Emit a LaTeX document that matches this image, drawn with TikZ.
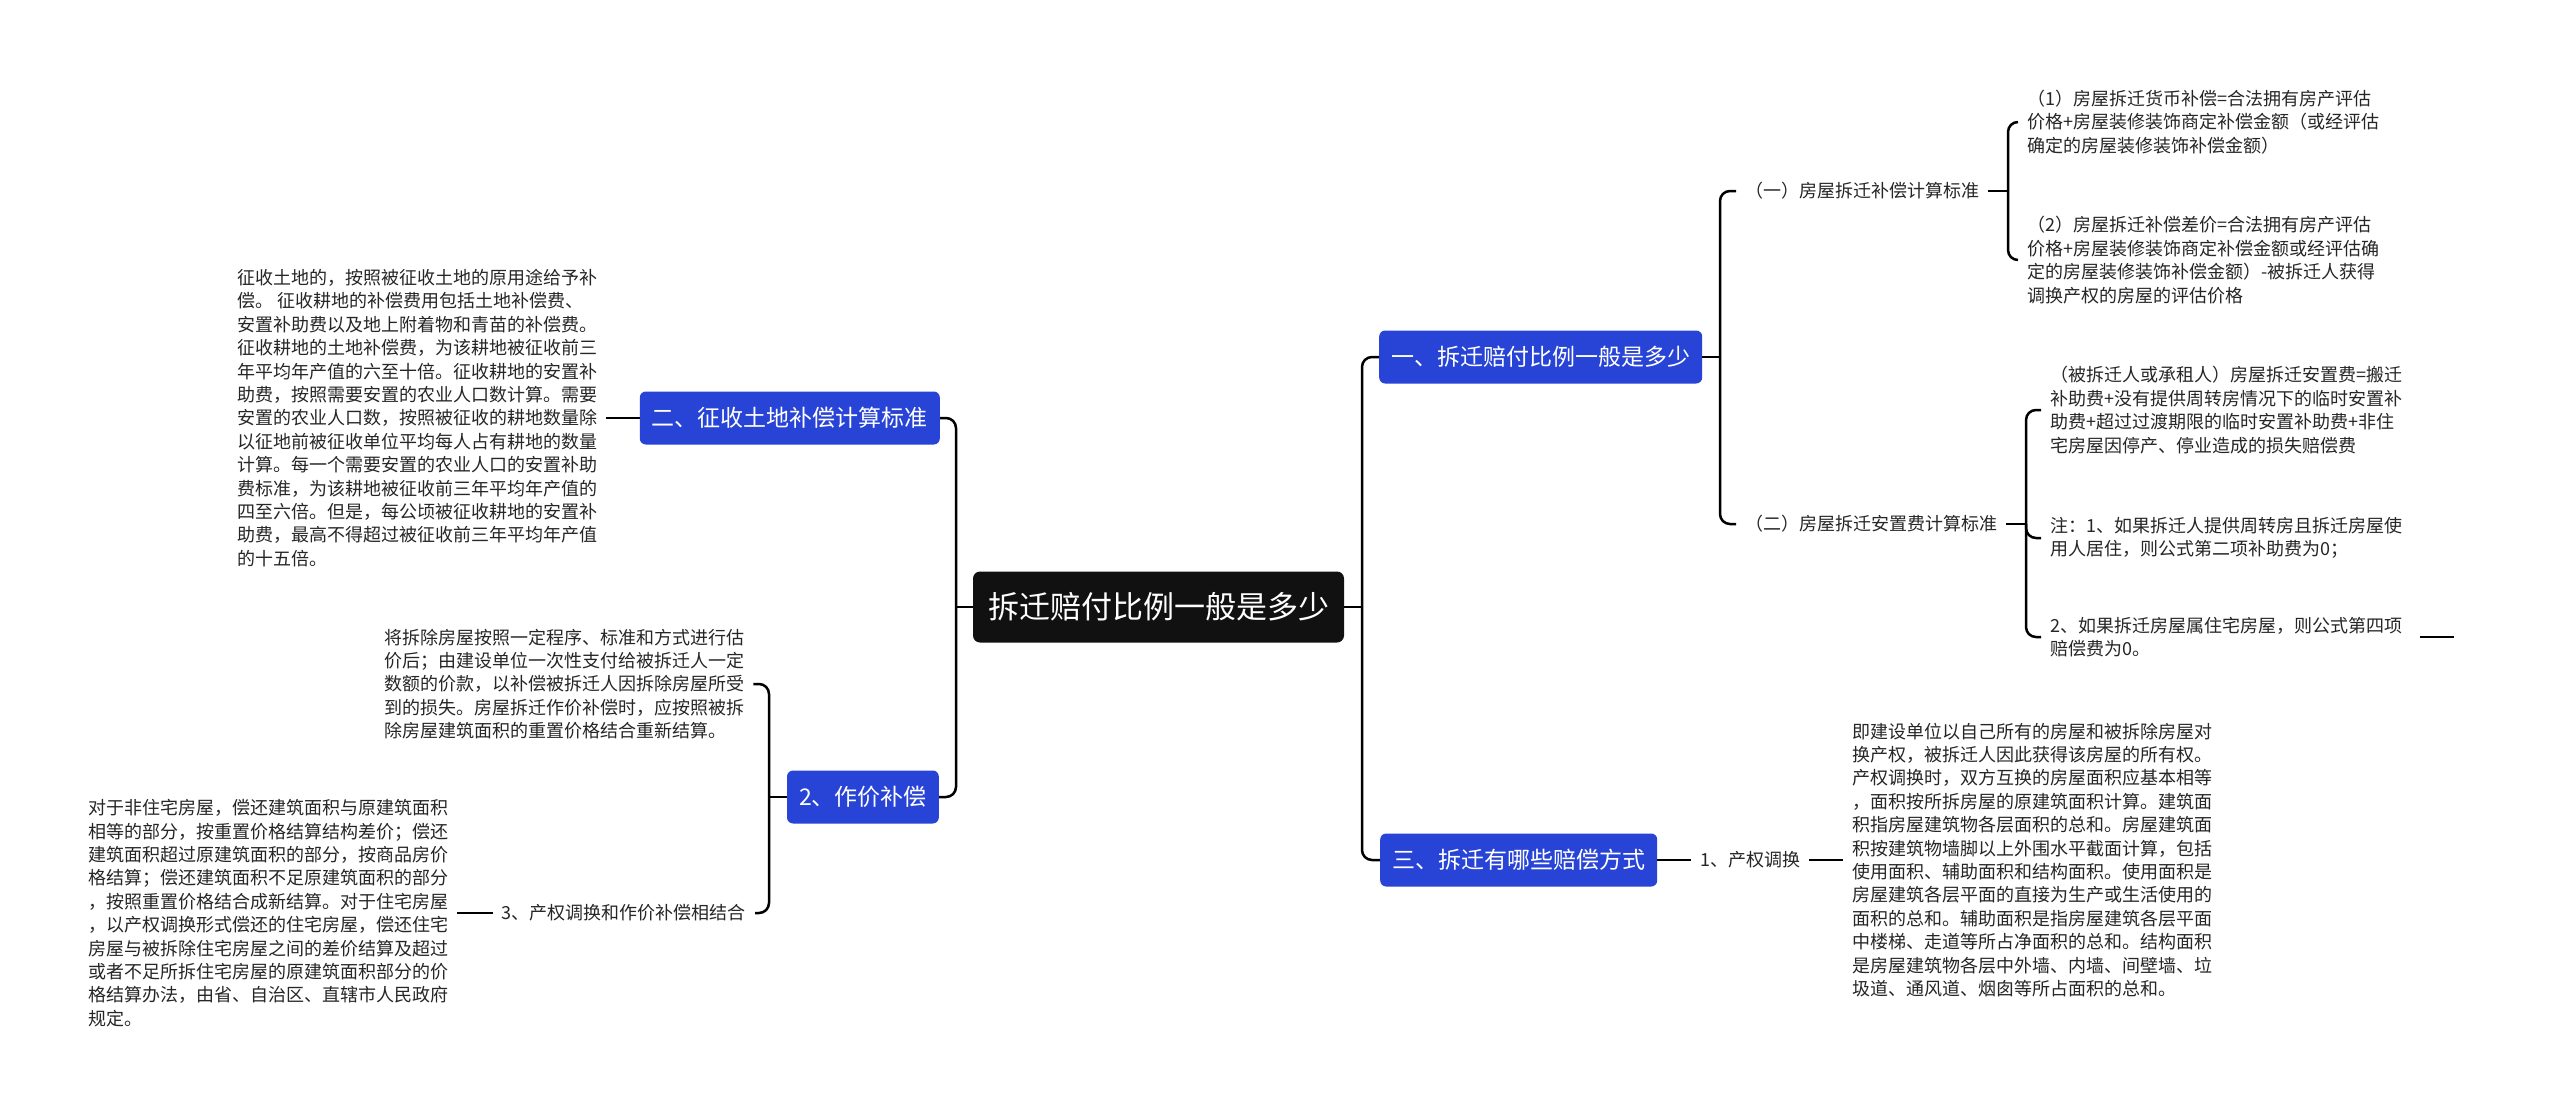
\documentclass[tikz,border=0pt]{standalone}
\usepackage{fontspec}
\newfontfamily\cjk{Noto Sans CJK SC}
\definecolor{mblue}{RGB}{40,68,214}
\definecolor{mtext}{RGB}{38,38,38}
\definecolor{mroot}{RGB}{17,17,17}
\begin{document}
\begin{tikzpicture}[x=1pt,y=-1pt,
  conn/.style={line width=2.5pt, draw=black, rounded corners=10pt},
  rootbox/.style={fill=mroot, text=white, rounded corners=7pt, inner xsep=15pt, inner ysep=0pt, minimum height=71pt, font=\cjk\fontsize{31}{36}\selectfont},
  topicbox/.style={fill=mblue, text=white, rounded corners=6pt, inner xsep=12pt, inner ysep=0pt, minimum height=53pt, font=\cjk\fontsize{23}{28}\selectfont},
  leaf/.style={text=mtext, inner xsep=9pt, inner ysep=2pt, align=left, font=\cjk\fontsize{18}{23.4}\selectfont},
]
\useasboundingbox[fill=white] (0,0) rectangle (2560,1116);

% trunk x positions
\coordinate (tkL) at (956,0);
\coordinate (tkZ) at (769,0);
\coordinate (tkR) at (1362,0);
\coordinate (tkY) at (1720,0);
\coordinate (tkA) at (2008,0);
\coordinate (tkB) at (2026,0);
\coordinate (stray) at (2454,637);

% root
\node[rootbox] (root) at (1158.5,607) {拆迁赔付比例一般是多少};

% left topics
\node[topicbox, anchor=east] (er) at (940,418) {二、征收土地补偿计算标准};
\node[topicbox, anchor=east] (zj) at (939,797) {2、作价补偿};

% right topics
\node[topicbox, anchor=west] (yi) at (1379,357) {一、拆迁赔付比例一般是多少};
\node[topicbox, anchor=west] (san) at (1380,860) {三、拆迁有哪些赔偿方式};

% left leaves
\node[leaf, anchor=west] (tA) at (228,418) {征收土地的，按照被征收土地的原用途给予补\\
偿。 征收耕地的补偿费用包括土地补偿费、\\
安置补助费以及地上附着物和青苗的补偿费。\\
征收耕地的土地补偿费，为该耕地被征收前三\\
年平均年产值的六至十倍。征收耕地的安置补\\
助费，按照需要安置的农业人口数计算。需要\\
安置的农业人口数，按照被征收的耕地数量除\\
以征地前被征收单位平均每人占有耕地的数量\\
计算。每一个需要安置的农业人口的安置补助\\
费标准，为该耕地被征收前三年平均年产值的\\
四至六倍。但是，每公顷被征收耕地的安置补\\
助费，最高不得超过被征收前三年平均年产值\\
的十五倍。};

\node[leaf, anchor=west] (tB) at (375,684) {将拆除房屋按照一定程序、标准和方式进行估\\
价后；由建设单位一次性支付给被拆迁人一定\\
数额的价款，以补偿被拆迁人因拆除房屋所受\\
到的损失。房屋拆迁作价补偿时，应按照被拆\\
除房屋建筑面积的重置价格结合重新结算。};

\node[leaf, anchor=east] (l3) at (755,913) {3、产权调换和作价补偿相结合};

\node[leaf, anchor=west] (tC) at (79,913) {对于非住宅房屋，偿还建筑面积与原建筑面积\\
相等的部分，按重置价格结算结构差价；偿还\\
建筑面积超过原建筑面积的部分，按商品房价\\
格结算；偿还建筑面积不足原建筑面积的部分\\
，按照重置价格结合成新结算。对于住宅房屋\\
，以产权调换形式偿还的住宅房屋，偿还住宅\\
房屋与被拆除住宅房屋之间的差价结算及超过\\
或者不足所拆住宅房屋的原建筑面积部分的价\\
格结算办法，由省、自治区、直辖市人民政府\\
规定。};

% right leaves
\node[leaf, anchor=west] (l1) at (1736,191) {（一）房屋拆迁补偿计算标准};
\node[leaf, anchor=west] (l2) at (1736,524) {（二）房屋拆迁安置费计算标准};

\node[leaf, anchor=west] (t1) at (2018,122) {（1）房屋拆迁货币补偿=合法拥有房产评估\\
价格+房屋装修装饰商定补偿金额（或经评估\\
确定的房屋装修装饰补偿金额）};
\node[leaf, anchor=west] (t2) at (2018,260) {（2）房屋拆迁补偿差价=合法拥有房产评估\\
价格+房屋装修装饰商定补偿金额或经评估确\\
定的房屋装修装饰补偿金额）-被拆迁人获得\\
调换产权的房屋的评估价格};

\node[leaf, anchor=west] (t3) at (2041,410) {（被拆迁人或承租人）房屋拆迁安置费=搬迁\\
补助费+没有提供周转房情况下的临时安置补\\
助费+超过过渡期限的临时安置补助费+非住\\
宅房屋因停产、停业造成的损失赔偿费};
\node[leaf, anchor=west] (t4) at (2041,538) {注：1、如果拆迁人提供周转房且拆迁房屋使\\
用人居住，则公式第二项补助费为0；};
\node[leaf, anchor=west] (t5) at (2041,637) {2、如果拆迁房屋属住宅房屋，则公式第四项\\
赔偿费为0。};

\node[leaf, anchor=west] (l4) at (1691,860) {1、产权调换};
\node[leaf, anchor=west] (tD) at (1843,860) {即建设单位以自己所有的房屋和被拆除房屋对\\
换产权，被拆迁人因此获得该房屋的所有权。\\
产权调换时，双方互换的房屋面积应基本相等\\
，面积按所拆房屋的原建筑面积计算。建筑面\\
积指房屋建筑物各层面积的总和。房屋建筑面\\
积按建筑物墙脚以上外围水平截面计算，包括\\
使用面积、辅助面积和结构面积。使用面积是\\
房屋建筑各层平面的直接为生产或生活使用的\\
面积的总和。辅助面积是指房屋建筑各层平面\\
中楼梯、走道等所占净面积的总和。结构面积\\
是房屋建筑物各层中外墙、内墙、间壁墙、垃\\
圾道、通风道、烟囱等所占面积的总和。};

% connectors left
\draw[conn] (root.west) -- (root.west -| tkL);
\draw[conn] (root.west -| tkL) |- (er.east);
\draw[conn] (root.west -| tkL) |- (zj.east);
\draw[conn] (tA.east) -- (er.west);
\draw[conn] (zj.west) -- (zj.west -| tkZ);
\draw[conn] (zj.west -| tkZ) |- (tB.east);
\draw[conn] (zj.west -| tkZ) |- (l3.east);
\draw[conn] (tC.east) -- (l3.west);

% connectors right
\draw[conn] (root.east) -- (root.east -| tkR);
\draw[conn] (root.east -| tkR) |- (yi.west);
\draw[conn] (root.east -| tkR) |- (san.west);
\draw[conn] (yi.east) -- (yi.east -| tkY);
\draw[conn] (yi.east -| tkY) |- (l1.west);
\draw[conn] (yi.east -| tkY) |- (l2.west);
\draw[conn] (l1.east) -- (l1.east -| tkA);
\draw[conn] (l1.east -| tkA) |- (t1.west);
\draw[conn] (l1.east -| tkA) |- (t2.west);
\draw[conn] (l2.east) -- (l2.east -| tkB);
\draw[conn] (l2.east -| tkB) |- (t3.west);
\draw[conn] (l2.east -| tkB) |- (t4.west);
\draw[conn] (l2.east -| tkB) |- (t5.west);
\draw[conn] ([xshift=9pt]t5.east) -- (stray);
\draw[conn] (san.east) -- (l4.west);
\draw[conn] (l4.east) -- (tD.west);
\end{tikzpicture}
\end{document}
